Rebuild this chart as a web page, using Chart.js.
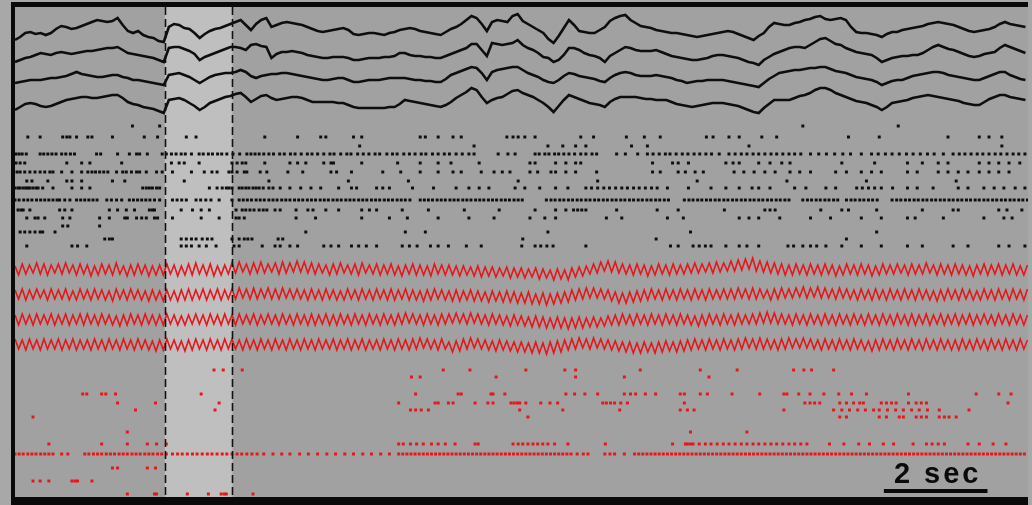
<!DOCTYPE html>
<html>
<head>
<meta charset="utf-8">
<script src="https://cdn.jsdelivr.net/npm/chart.js@4/dist/chart.umd.min.js"></script>
<style>
  html, body { margin: 0; padding: 0; background: #a8a8a8; overflow: hidden; }
  canvas { display: block; }
</style>
</head>
<body>
<canvas id="rec" width="1032" height="505"></canvas>
<script>
// time axis in seconds, LFP sampled for display every blackStep / redStep
const blackStep = 0.1;
const redStep = 0.0705;
const bandStart = 2.92, bandEnd = 4.24;     // highlighted epoch (s)
const scaleBar = [16.94, 18.96];             // 2 sec

// black LFP channels (deflection, up positive)
const lfpBlack1 = [-12,-9,-5,-4,-6,-5,-7,-5,-1,2, 1,-1,0,2,4,6,8,7,6,7, 10,3,-3,-5,-3,-7,-9,-10,-13,-14,
  1,4,3,0,-1,-5,-10,-6,-3,-1, 0,2,4,6,8,3,-2,4,8,10, 1,3,5,6,5,4,3,1,-1,-3, -4,-3,-2,-1,0,-2,-6,-7,-6,-5,
  -5,-6,-7,-5,-4,-2,-1,0,-1,-3, -4,-5,-6,-7,-4,-1,1,4,8,12, 10,4,-3,6,8,7,6,12,14,7, 4,1,-2,-5,-11,-15,-8,0,8,3,
  -3,-4,-5,-5,-2,1,7,10,12,13, 8,5,2,1,0,-2,-3,-4,-5,-5, -6,-7,-8,-9,-8,-7,-6,-5,-4,-3, -4,-6,-8,-10,-12,-8,-5,1,5,4,
  3,3,5,6,8,9,11,12,9,8, 9,10,8,1,-4,-5,-5,-6,-7,-9, -6,-4,-4,-2,-1,0,1,2,4,5, 6,5,4,3,1,-1,-3,-4,-3,-2, -1,1,4,6,4,3,2,1];
const lfpBlack2 = [-10,-8,-6,-5,-3,-1,-2,-3,-1,0, -1,-2,-1,0,1,1,2,3,4,4, 5,2,-1,-2,-3,-4,-5,-6,-8,-10,
  4,5,5,3,1,-2,-8,-5,-3,-1, 1,3,5,5,4,2,7,8,6,5, -6,-2,0,0,1,0,-1,-3,-4,-5, -6,-6,-5,-5,-5,-6,-8,-8,-7,-6,
  -6,-6,-5,-5,-4,-1,-1,-3,-4,-4, -5,-5,-6,-6,-4,-2,0,2,4,8, 8,2,-4,9,8,7,8,9,12,7, 4,2,-1,-5,-6,-10,-8,-3,4,4,
  2,-1,-3,-4,-6,-10,-4,-1,2,5, 4,2,1,1,1,2,0,-2,-4,-5, -6,-7,-8,-8,-7,-6,-4,-3,-3,-4, -5,-6,-8,-10,-11,-13,-8,-5,-2,0,
  2,4,5,5,4,7,10,13,14,11, 8,7,4,2,0,-1,-2,-3,-6,-10, -8,-6,-5,-4,-4,-3,-3,-1,2,5, 7,5,3,2,0,-2,-4,-5,-4,-2, -1,0,4,7,5,3,1,-1];
const lfpBlack3 = [-6,-5,-4,-3,-3,-3,-2,-1,-1,0, 1,3,5,3,2,1,0,0,1,2, 2,0,-1,-3,-3,-4,-5,-6,-7,-8,
  2,3,4,2,0,-3,-6,-3,0,2, 3,4,4,5,7,5,1,-1,1,2, 3,3,4,4,3,2,1,0,-1,-2, -3,-3,-2,-1,-1,-3,-5,-5,-4,-3,
  -3,-3,-2,-1,-1,-1,-1,-2,-3,-3, -4,-4,-5,-5,-2,2,4,6,8,10, 9,4,-3,5,7,8,9,10,10,7, 4,2,0,-3,-5,-6,-3,1,4,3,
  1,0,-1,-2,-4,-5,-1,2,4,5, 4,2,1,1,1,2,1,0,-1,-3, -4,-6,-5,-4,-4,-3,-3,-3,-3,-4, -5,-6,-7,-8,-9,-10,-6,-2,1,4,
  5,6,7,7,8,9,9,10,10,8, 6,5,4,2,0,-1,-2,-3,-5,-8, -6,-4,-3,-3,-1,1,2,3,4,5, 5,4,2,1,0,-1,-2,-3,-3,-1, 1,3,5,5,2,0,-2,-3];
const lfpBlack4 = [-8,-5,-2,-1,-2,-4,-5,-4,-2,0, 2,3,4,5,5,4,4,5,6,7, 7,4,0,-2,-3,-5,-6,-7,-9,-11,
  2,3,4,2,-1,-4,-8,-5,-1,1, 3,5,6,8,9,5,0,3,6,7, 4,2,3,4,5,5,4,2,0,0, 0,0,0,-1,-1,-3,-5,-6,-6,-6,
  -6,-6,-6,-5,-5,-2,2,1,0,-1, -2,-3,-4,-5,-3,0,4,7,10,14, 12,5,-1,2,4,5,8,11,12,9, 7,5,2,-1,-5,-10,-4,2,7,5,
  3,1,-1,-2,-3,-5,0,3,5,5, 5,5,4,3,3,2,2,2,0,-2, -3,-4,-5,-4,-3,-2,-1,-1,-1,-2, -3,-4,-6,-8,-10,-11,-6,-2,2,2,
  2,2,4,6,7,9,12,14,14,12, 9,7,5,3,1,0,-1,-3,-5,-8, -5,-1,0,1,2,4,5,6,7,6, 5,4,3,2,1,-1,-2,-3,-3,0, 3,5,7,7,5,4,3,2];

// red LFP channels (theta), successive peaks and troughs
const lfpRed1 = [4,-5,6,-4,5,-3,7,-4,6,-5,5,-3,6,-4,7,-3,5,-5,6,-4, 5,-6,4,-5,6,-4,5,-5,7,-4,4,-6,5,-5,6,-4,5,-6,4,-5,
  5,-5,6,-4,5,-6,4,-5,6,-5,7,-4,5,-5,6,-6,4,-5,5,-4, 7,-3,8,-2,6,-4,7,-3,8,-3,6,-2,7,-4,8,-3,7,-2,9,-2,
  8,-3,7,-4,6,-3,5,-5,6,-4,7,-3,5,-4,6,-5,7,-3,5,-4, 6,-5,5,-4,6,-5,4,-6,5,-4,6,-5,5,-5,4,-6,6,-4,5,-5,
  5,-5,4,-6,4,-5,3,-6,4,-7,3,-6,3,-7,2,-6,3,-8,2,-7, 2,-8,1,-7,2,-9,1,-8,0,-10,1,-9,0,-10,2,-7,3,-6,4,-4,
  6,-3,8,-1,9,-2,8,-3,6,-4,5,-5,6,-4,5,-6,4,-5,6,-4, 5,-5,6,-4,5,-4,6,-3,7,-3,6,-2,7,-3,8,-2,7,-1,9,-1,
  10,0,11,1,12,-1,9,-2,8,-3,7,-4,6,-5,5,-5,6,-4,5,-5, 6,-4,5,-5,6,-4,5,-6,4,-5,6,-4,5,-5,6,-4,5,-6,4,-5,
  6,-4,5,-4,6,-3,5,-5,6,-4,5,-4,7,-3,5,-5,6,-4,5,-5, 6,-4,5,-5,4,-6,5,-4,6,-5,5,-4,6,-5,5,-4,6,-5,4,-5, 5];
const lfpRed2 = [5,-4,6,-5,5,-4,6,-3,5,-5,6,-4,5,-4,6,-5,4,-5,6,-4, 5,-5,6,-4,5,-5,4,-6,6,-4,5,-5,6,-4,5,-5,4,-6,5,-5,
  4,-6,5,-5,4,-6,5,-5,6,-5,5,-4,6,-5,5,-4,6,-5,5,-4, 6,-4,7,-3,6,-4,7,-4,6,-3,7,-4,6,-4,7,-3,6,-4,6,-4,
  5,-5,6,-4,5,-5,6,-4,5,-5,4,-5,6,-4,5,-5,6,-4,5,-5, 6,-4,5,-5,6,-5,5,-4,6,-5,5,-5,4,-6,5,-5,6,-4,5,-5,
  4,-6,5,-6,4,-5,5,-6,4,-6,3,-7,4,-6,3,-7,4,-7,3,-8, 2,-8,3,-9,1,-9,2,-10,1,-9,2,-8,3,-7,5,-5,6,-4,7,-3,
  7,-3,6,-4,5,-6,3,-8,2,-8,3,-7,4,-6,5,-5,6,-4,5,-5, 6,-4,5,-5,6,-4,5,-5,6,-4,5,-5,6,-4,5,-4,6,-4,6,-4,
  7,-3,6,-4,7,-4,6,-3,5,-5,6,-4,7,-3,6,-3,7,-2,8,-3, 7,-2,8,-3,7,-3,6,-4,7,-3,6,-4,5,-5,6,-4,5,-5,6,-4,
  5,-5,6,-4,5,-5,6,-4,5,-5,6,-4,5,-5,4,-6,5,-5,6,-4, 5,-5,6,-4,5,-5,4,-5,6,-4,5,-5,6,-4,5,-5,6,-4,5,-5, 6];
const lfpRed3 = [5,-5,6,-4,5,-5,6,-4,5,-4,6,-5,5,-4,6,-5,5,-4,6,-5, 6,-4,5,-5,6,-4,5,-5,4,-6,5,-5,6,-4,5,-5,6,-4,5,-5,
  5,-5,6,-4,5,-5,4,-5,5,-4,6,-4,5,-5,6,-4,5,-5,6,-4, 5,-5,6,-4,5,-4,6,-5,5,-4,6,-4,5,-5,6,-4,5,-5,6,-4,
  5,-5,6,-5,5,-4,6,-5,5,-5,6,-4,5,-5,6,-4,5,-5,6,-4, 5,-5,6,-4,5,-5,6,-4,7,-3,6,-4,5,-5,6,-4,5,-5,6,-4,
  6,-3,7,-3,6,-4,7,-3,6,-4,5,-5,6,-4,5,-5,4,-6,5,-5, 4,-6,3,-7,4,-7,3,-8,2,-8,3,-8,2,-9,2,-8,3,-8,2,-7,
  3,-7,2,-6,4,-5,5,-5,6,-4,5,-5,6,-4,5,-5,6,-4,5,-5, 6,-4,5,-5,6,-4,5,-5,4,-6,5,-5,6,-4,5,-5,6,-4,5,-5,
  6,-4,5,-4,6,-4,7,-3,8,-3,7,-4,6,-4,5,-5,6,-4,5,-5, 6,-4,5,-5,6,-4,5,-5,6,-4,5,-5,6,-4,5,-5,6,-4,5,-5,
  6,-4,5,-5,6,-4,5,-5,6,-5,5,-4,6,-5,5,-4,6,-5,5,-4, 6,-5,5,-4,6,-5,5,-4,6,-4,5,-5,6,-4,5,-5,6,-4,5,-5, 5];
const lfpRed4 = [6,-4,5,-5,6,-4,5,-5,6,-4,5,-4,6,-5,5,-4,6,-5,5,-4, 5,-5,6,-4,5,-5,6,-4,5,-5,6,-4,5,-5,6,-4,5,-5,4,-6,
  5,-5,6,-4,5,-5,4,-6,5,-5,6,-4,5,-5,6,-4,5,-5,6,-4, 6,-4,5,-5,6,-4,5,-5,6,-4,5,-5,6,-4,5,-5,6,-4,5,-5,
  6,-4,5,-5,6,-4,5,-4,6,-5,5,-4,6,-5,5,-4,6,-5,5,-4, 5,-5,6,-4,5,-5,6,-4,5,-5,6,-4,7,-3,6,-4,5,-5,6,-4,
  3,-7,4,-6,6,-4,7,-3,6,-4,5,-5,4,-6,5,-5,4,-6,3,-7, 3,-7,2,-8,3,-8,2,-9,3,-8,4,-7,5,-5,6,-4,7,-3,6,-4,
  7,-3,6,-4,5,-5,4,-6,3,-7,3,-8,2,-8,3,-7,2,-8,3,-7, 4,-6,3,-7,4,-6,5,-5,6,-4,5,-5,6,-4,5,-5,6,-4,5,-5,
  6,-4,7,-3,6,-4,7,-4,6,-4,5,-5,6,-4,7,-3,6,-3,7,-3, 6,-4,5,-5,6,-4,5,-5,6,-4,5,-5,6,-4,5,-5,4,-6,5,-5,
  6,-4,5,-5,6,-4,5,-5,6,-4,5,-5,6,-4,5,-5,6,-4,5,-5, 5,-5,6,-4,5,-5,6,-4,5,-5,6,-4,5,-5,6,-4,5,-5,6,-4, 5];

// black units: spike times (s), one list per unit
const blackSpikes = [
  [2.29,2.82,15.36,17.22],
  [0.25,0.49,0.93,1.01,1.07,1.20,1.42,1.50,1.90,2.52,2.78,3.34,3.53,4.87,5.51,5.96,6.06,6.60,6.76,7.90,8.00,8.25,8.54,8.70,9.59,9.71,9.81,9.94,10.14,11.03,11.28,11.92,12.27,12.58,13.48,13.61,13.92,14.12,14.56,14.85,16.25,16.85,18.19,18.80,18.99,19.24],
  [6.72,8.95,10.39,10.68,10.93,11.13,12.02,12.33,14.31,19.24],
  [0.02,0.08,0.14,0.22,0.49,0.56,0.64,0.72,0.80,0.91,0.99,1.08,1.16,1.59,1.67,2.00,2.23,2.37,2.43,2.58,2.87,2.95,3.05,3.14,3.24,3.32,3.44,3.59,3.67,3.77,3.85,3.95,4.03,4.13,4.25,4.38,4.52,4.60,4.68,4.76,4.85,4.95,5.04,5.16,5.25,5.37,5.46,5.58,5.70,5.79,5.90,6.02,6.14,6.22,6.35,6.47,6.55,6.68,6.79,6.90,7.02,7.11,7.25,7.36,7.45,7.58,7.69,7.80,7.92,8.01,8.14,8.25,8.37,8.47,8.60,8.72,8.85,8.95,9.42,9.61,9.75,10.14,10.22,10.33,10.41,10.52,10.60,10.70,10.80,10.91,11.03,11.13,11.25,11.34,11.73,11.90,12.14,12.33,12.44,12.56,12.68,12.77,12.89,13.01,13.12,13.24,13.35,13.47,13.58,13.73,13.92,14.04,14.16,14.27,14.39,14.50,14.62,14.74,14.85,14.97,15.09,15.20,15.32,15.51,15.67,15.82,15.98,16.14,16.29,16.50,16.70,16.83,16.97,17.10,17.24,17.38,17.51,17.65,17.79,17.92,18.10,18.29,18.41,18.52,18.64,18.76,18.87,18.99,19.11,19.22,19.34,19.46,19.57,19.69],
  [0.02,0.10,0.19,1.01,1.30,1.46,2.08,3.05,3.20,3.30,3.59,4.23,4.33,4.43,4.50,4.87,5.36,5.51,5.67,6.02,6.16,6.21,6.76,7.46,7.90,8.25,8.50,9.05,10.04,10.14,10.54,10.74,10.93,11.03,12.43,12.82,12.93,13.13,13.86,14.00,14.12,14.50,14.72,14.95,15.11,16.12,16.76,17.40,17.69,18.00,18.19,18.80,18.99,19.18,19.38,19.59],
  [0.04,0.10,0.19,0.29,0.39,0.49,0.58,0.68,0.74,0.91,1.11,1.30,1.42,1.50,1.57,1.65,1.73,1.81,1.98,2.10,2.17,2.27,2.37,2.43,2.56,2.76,2.87,3.07,3.44,3.69,3.84,3.94,4.17,4.23,4.33,4.47,4.52,4.78,4.91,5.32,5.61,6.16,6.27,6.56,7.17,7.52,7.90,8.25,8.54,8.70,9.09,9.34,9.50,9.65,10.04,10.19,10.45,10.54,10.74,10.93,11.34,12.43,12.58,12.93,13.07,13.26,13.42,14.02,14.21,14.41,14.62,14.82,15.11,15.30,15.51,16.00,16.21,16.50,16.70,16.89,17.40,17.59,18.00,18.19,18.39,18.58,18.80,18.99,19.18,19.38],
  [0.23,0.33,0.64,1.01,1.11,1.30,1.90,2.14,3.30,4.95,6.50,7.67,9.81,11.36,13.30,15.05,16.60,18.35],
  [0.00,0.06,0.10,0.16,0.21,0.25,0.29,0.35,0.41,0.45,0.54,0.74,1.11,1.30,1.46,2.49,2.56,2.62,2.68,2.76,2.82,3.79,3.94,4.04,4.12,4.17,4.23,4.37,4.43,4.50,4.56,4.64,4.70,4.76,4.84,4.95,5.03,5.17,5.36,5.57,5.77,5.96,6.31,6.56,6.66,7.05,7.17,7.30,7.75,8.16,8.60,8.85,9.05,9.24,9.75,9.94,10.23,10.54,10.78,11.13,11.24,11.36,11.48,11.59,11.71,11.83,11.94,12.06,12.17,12.29,12.41,12.52,12.72,13.13,13.57,13.86,14.12,14.37,14.50,14.72,15.20,15.42,15.81,16.00,16.41,16.52,16.64,16.76,16.89,17.11,17.40,17.59,17.90,18.39,18.58,18.89,19.09,19.28,19.50,19.69],
  [0.00,0.08,0.17,0.25,0.33,0.42,0.50,0.58,0.66,0.74,0.82,0.87,0.97,1.07,1.20,1.28,1.36,1.44,1.52,1.60,1.79,1.88,1.98,2.08,2.23,2.31,2.39,2.47,2.55,2.63,2.72,2.82,3.07,3.16,3.25,3.34,3.53,3.62,3.72,3.82,3.98,4.23,
   4.37,4.45,4.53,4.61,4.70,4.78,4.86,4.95,5.03,5.11,5.20,5.28,5.36,5.45,5.53,5.61,5.70,5.78,5.86,5.95,6.03,6.11,6.20,6.28,6.36,6.45,6.53,6.61,6.70,6.78,6.86,6.95,7.03,7.11,7.20,7.28,7.36,7.45,7.53,7.61,7.70,7.90,7.98,
   8.06,8.14,8.23,8.31,8.39,8.48,8.56,8.64,8.73,8.81,8.89,8.98,9.06,9.14,9.23,9.31,9.39,9.48,9.56,9.64,9.73,9.81,9.89,
   10.36,10.45,10.53,10.62,10.70,10.79,10.87,10.96,11.04,11.13,11.21,11.30,11.38,11.47,11.55,11.64,11.72,11.81,11.89,11.98,12.06,12.15,12.23,12.32,12.40,12.49,12.57,12.66,12.74,
   13.05,13.14,13.22,13.31,13.39,13.48,13.56,13.65,13.73,13.82,13.90,13.99,14.07,14.16,14.24,14.33,14.41,14.50,14.58,14.67,14.75,14.84,14.92,15.01,15.09,
   15.36,15.45,15.53,15.62,15.70,15.79,15.87,15.96,16.04,16.21,16.30,16.38,16.47,16.55,16.64,16.72,16.81,
   17.10,17.19,17.27,17.36,17.44,17.53,17.61,17.70,17.78,17.87,17.95,18.04,18.12,18.21,18.29,18.38,18.46,18.55,18.63,18.72,18.80,18.89,18.97,19.06,19.14,19.23,19.31,19.40,19.48,19.57,19.65,19.74],
  [0.06,0.12,0.16,0.29,0.87,0.97,1.11,1.84,2.00,2.17,2.33,2.62,2.68,2.72,3.24,3.46,3.63,3.79,4.31,4.43,4.50,4.58,4.66,4.76,4.84,4.91,5.07,5.17,5.48,5.71,5.81,6.06,6.31,6.76,6.91,7.05,7.55,8.06,8.76,9.44,10.14,10.54,10.74,10.89,10.97,11.05,11.13,11.73,12.52,12.93,13.83,14.62,14.72,14.82,15.71,16.12,16.25,16.80,17.69,18.29,18.39,19.18,19.34,19.63],
  [0.23,0.39,0.45,0.58,0.93,1.07,1.65,1.84,2.14,2.19,2.37,2.47,2.56,2.72,2.78,3.07,3.63,3.98,4.31,4.37,4.47,5.48,5.86,6.76,7.30,7.65,8.25,8.85,9.34,10.04,10.33,10.54,11.53,11.83,12.72,13.03,14.12,14.31,14.50,14.91,15.51,15.90,16.50,16.89,17.40,17.55,18.10,18.89,19.28,19.44],
  [0.93,1.03,1.65],
  [0.10,0.19,0.29,0.39,0.49,0.54,0.78,5.67,7.61,8.00,10.39,13.17,16.80],
  [1.75,1.84,1.90,3.24,3.34,3.44,3.53,3.65,3.75,3.84,4.23,4.37,4.47,4.54,4.62,5.13,5.22,9.90,12.50,16.21],
  [0.23,1.11,1.22,1.40,3.24,3.34,3.44,3.59,3.73,3.92,4.27,4.37,4.82,5.07,5.17,5.36,5.51,6.02,6.16,6.31,6.56,6.70,6.85,7.05,7.55,7.69,7.84,8.10,8.25,8.45,8.80,9.09,9.88,10.14,10.25,10.37,10.49,11.13,12.78,12.93,13.22,13.34,13.46,13.57,13.86,14.12,14.27,14.50,15.07,15.18,15.36,15.51,15.63,15.81,16.12,16.50,16.89,17.40,17.69,18.29,18.58,19.18,19.38,19.69]
];

// red units: spike times (s)
const redSpikes = [
  [3.88,4.06,4.43,8.35,8.87,9.96,10.72,10.93,12.19,13.36,14.08,15.18,15.38,15.53,15.96],
  [7.73,7.90,9.38,10.93,11.88,13.53],
  [1.32,1.40,1.69,1.77,1.96,3.63,7.81,8.64,8.70,9.28,9.32,9.55,10.74,10.91,11.11,11.36,11.88,12.00,12.10,12.29,12.49,12.97,13.05,13.36,13.50,13.98,14.52,14.99,15.05,15.28,15.50,15.77,16.06,16.31,16.60,17.42,18.74,19.18,19.42],
  [2.00,2.74,3.98,7.48,8.19,8.25,8.45,8.54,8.97,9.22,9.32,9.67,9.73,9.79,9.84,9.96,10.25,10.43,10.58,11.46,11.53,11.61,11.69,11.81,11.94,13.05,15.40,15.50,15.59,15.69,16.08,16.21,16.35,16.47,16.54,16.89,16.99,17.09,17.18,17.42,17.57,17.67,17.77,19.36],
  [2.35,3.90,7.71,7.81,7.92,8.06,9.84,10.68,11.79,12.97,13.11,13.24,14.99,15.96,16.12,16.27,16.43,16.58,16.74,16.85,17.01,17.17,17.32,17.48,17.63,17.79,18.02,18.60],
  [0.35,10.00,16.08,16.21,16.85,16.99,17.24,17.32,17.57,17.67,17.77,18.02,18.12,18.21,18.35],
  [2.19,13.17,14.27],
  [0.66,1.69,2.19,2.58,2.76,2.95,7.48,7.57,7.71,7.83,7.96,8.12,8.25,8.39,8.58,8.97,9.03,9.71,9.81,9.90,10.00,10.10,10.19,10.29,10.39,10.52,10.78,11.51,12.82,13.07,13.11,13.17,13.22,13.34,13.46,13.57,13.69,13.81,13.92,14.04,14.16,14.27,14.39,14.50,14.62,14.74,14.85,14.97,15.09,15.20,15.32,15.44,15.88,16.16,16.45,16.66,16.93,17.13,17.51,17.77,17.88,18.00,18.12,18.58,18.80,19.07,19.32],
  [0.00,0.08,0.16,0.25,0.33,0.41,0.50,0.58,0.66,0.74,0.91,1.03,1.36,1.44,1.53,1.61,1.69,1.78,1.86,1.94,2.03,2.11,2.19,2.28,2.36,2.44,2.53,2.61,2.69,2.78,2.86,2.95,3.07,3.17,3.26,3.36,3.46,3.55,3.65,3.75,3.84,3.94,4.04,4.13,4.23,4.33,4.42,4.52,4.62,4.72,
   4.85,5.03,5.20,5.36,5.55,5.72,5.90,6.08,6.25,6.43,6.60,6.78,6.95,7.13,7.30,7.48,
   7.56,7.64,7.72,7.80,7.88,7.96,8.04,8.12,8.20,8.28,8.36,8.44,8.52,8.60,8.68,8.76,8.84,8.92,9.00,9.08,9.16,9.24,9.32,9.40,9.48,9.56,9.64,9.72,9.80,9.88,9.96,10.04,10.12,10.20,10.28,10.36,10.44,10.52,10.60,10.68,10.76,10.84,10.96,11.08,11.17,
   11.50,11.60,11.69,11.88,
   12.08,12.16,12.24,12.32,12.40,12.48,12.56,12.64,12.72,12.80,12.88,12.96,13.04,13.12,13.20,13.28,13.36,13.44,13.52,13.60,13.68,13.76,13.84,13.92,14.00,14.08,14.16,14.24,14.32,14.40,14.48,14.56,14.64,14.72,14.80,14.88,14.96,15.04,15.12,15.20,15.28,15.36,15.44,15.52,15.60,15.68,15.76,15.84,15.92,16.00,
   16.08,16.16,16.24,16.32,16.40,16.48,16.56,16.64,16.72,16.80,16.88,16.96,17.04,17.12,17.20,17.28,17.36,17.44,17.52,17.60,17.68,17.76,17.84,17.92,18.00,18.08,18.16,18.24,18.32,18.40,18.48,18.56,18.64,18.72,18.80,18.88,18.96,19.04,19.12,19.20,19.28,19.36,19.44,19.52,19.60,19.68],
  [1.90,2.00,2.58,2.74],
  [0.35,0.49,0.66,1.11,1.17,1.22,1.50],
  [2.19,2.72,2.76,3.36,3.77,4.02,4.08,4.12,4.64]
];

// layout: vertical placement of each channel / unit row (y axis runs top to bottom)
const blackTraceY = [28, 52, 77, 102];
const redTraceY = [270, 295, 320, 345];
const blackRowY = [126, 137, 146, 154, 163, 172, 181, 188, 200, 210, 218, 226, 232, 239, 246];
const redRowY = [370, 377, 394, 403, 410, 417, 432, 444, 454, 468, 481, 494];

const BLACK = '#0e0e0e', RED = '#e8151b';

function trace(vals, step, base) {
  return vals.map((v, i) => ({ x: i * step, y: base - v }));
}
function raster(times, rowY) {
  return times.map(t => ({ x: t, y: rowY }));
}

const datasets = [];
[lfpBlack1, lfpBlack2, lfpBlack3, lfpBlack4].forEach((v, k) => datasets.push({
  data: trace(v, blackStep, blackTraceY[k]), showLine: true, borderColor: BLACK,
  borderWidth: 2.6, pointRadius: 0, tension: 0
}));
[lfpRed1, lfpRed2, lfpRed3, lfpRed4].forEach((v, k) => datasets.push({
  data: trace(v, redStep, redTraceY[k]), showLine: true, borderColor: RED,
  borderWidth: 1.6, pointRadius: 0, tension: 0
}));
blackSpikes.forEach((s, k) => datasets.push({
  data: raster(s, blackRowY[k]), pointStyle: 'rect', pointRadius: 2.1,
  pointBackgroundColor: BLACK, pointBorderWidth: 0
}));
redSpikes.forEach((s, k) => datasets.push({
  data: raster(s, redRowY[k]), pointStyle: 'rect', pointRadius: 2.1,
  pointBackgroundColor: RED, pointBorderWidth: 0
}));

const backdrop = {
  id: 'backdrop',
  beforeDraw(chart) {
    const { ctx, chartArea: a, scales: { x } } = chart;
    ctx.save();
    ctx.fillStyle = '#a8a8a8';
    ctx.fillRect(0, 0, chart.width, chart.height);
    ctx.fillStyle = '#a1a1a1';
    ctx.fillRect(a.left, a.top, a.right - a.left, a.bottom - a.top);
    const x0 = x.getPixelForValue(bandStart), x1 = x.getPixelForValue(bandEnd);
    ctx.fillStyle = '#bfbfbf';
    ctx.fillRect(x0, a.top, x1 - x0, a.bottom - a.top);
    ctx.restore();
  },
  afterDatasetsDraw(chart) {
    const { ctx, chartArea: a, scales: { x } } = chart;
    ctx.save();
    ctx.strokeStyle = '#111';
    ctx.lineWidth = 1.6;
    ctx.setLineDash([8, 4]);
    [bandStart, bandEnd].forEach(t => {
      const px = Math.round(x.getPixelForValue(t)) + 0.5;
      ctx.beginPath();
      ctx.moveTo(px, a.top);
      ctx.lineTo(px, a.bottom);
      ctx.stroke();
    });
    ctx.restore();
  },
  afterDraw(chart) {
    const { ctx, chartArea: a, scales: { x, y } } = chart;
    ctx.save();
    // frame (left, top, bottom; the right side is open)
    ctx.fillStyle = '#0a0a0a';
    ctx.fillRect(a.left - 4, a.top - 5, 4, chart.height - a.top + 5);
    ctx.fillRect(a.left - 4, a.top - 5, a.right - a.left + 4, 5);
    ctx.fillRect(a.left - 4, a.bottom, a.right - a.left + 4, chart.height - a.bottom);
    // scale bar
    const b0 = x.getPixelForValue(scaleBar[0]), b1 = x.getPixelForValue(scaleBar[1]);
    ctx.fillRect(b0, y.getPixelForValue(489), b1 - b0, 4);
    ctx.font = 'bold 29px "Liberation Sans", Arial, sans-serif';
    if ('letterSpacing' in ctx) ctx.letterSpacing = '3px';
    ctx.textAlign = 'center';
    ctx.textBaseline = 'alphabetic';
    ctx.fillText('2 sec', (b0 + b1) / 2 + 2, y.getPixelForValue(483));
    ctx.restore();
  }
};

new Chart(document.getElementById('rec'), {
  type: 'scatter',
  data: { datasets },
  options: {
    responsive: false,
    animation: false,
    events: [],
    layout: { padding: { left: 15, top: 7, right: 0, bottom: 8 } },
    plugins: { legend: { display: false }, tooltip: { enabled: false } },
    scales: {
      x: { type: 'linear', min: 0, max: 19.75, display: false },
      y: { type: 'linear', min: 7, max: 497, reverse: true, display: false }
    }
  },
  plugins: [backdrop]
});
</script>
</body>
</html>
